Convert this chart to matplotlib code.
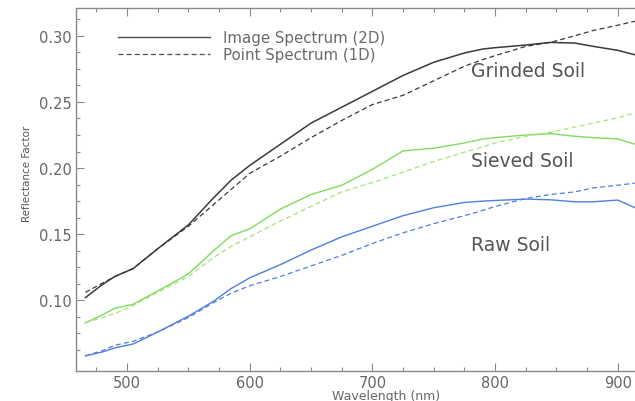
import numpy as np
import matplotlib.pyplot as plt
from matplotlib.lines import Line2D
from matplotlib.ticker import MultipleLocator, FixedLocator

# wavelength grid (nm)
wavelength = [466, 480, 490, 505, 525, 550, 570, 585, 600, 625, 650, 675,
              700, 725, 750, 775, 790, 800, 825, 845, 865, 880, 900, 914]

# image spectrum (2D) - solid lines
img_grinded = [0.102, 0.112, 0.118, 0.124, 0.139, 0.157, 0.177, 0.191, 0.202, 0.218, 0.234, 0.246,
               0.258, 0.270, 0.280, 0.287, 0.290, 0.291, 0.293, 0.295, 0.2945, 0.292, 0.289, 0.2856]
img_sieved = [0.083, 0.089, 0.094, 0.097, 0.107, 0.120, 0.137, 0.149, 0.154, 0.169, 0.180, 0.187,
              0.199, 0.213, 0.215, 0.219, 0.222, 0.223, 0.225, 0.226, 0.224, 0.223, 0.222, 0.218]
img_raw = [0.058, 0.061, 0.064, 0.067, 0.076, 0.088, 0.099, 0.109, 0.117, 0.127, 0.138, 0.148,
           0.156, 0.164, 0.170, 0.174, 0.175, 0.1755, 0.1765, 0.176, 0.1745, 0.1745, 0.1758, 0.170]

# point spectrum (1D) - dashed lines
pt_grinded = [0.106, 0.113, 0.118, 0.124, 0.139, 0.156, 0.172, 0.184, 0.196, 0.209, 0.223, 0.236,
              0.248, 0.255, 0.266, 0.277, 0.282, 0.285, 0.292, 0.295, 0.300, 0.304, 0.308, 0.311]
pt_sieved = [0.083, 0.087, 0.090, 0.096, 0.106, 0.118, 0.132, 0.141, 0.148, 0.160, 0.171, 0.182,
             0.189, 0.197, 0.205, 0.212, 0.216, 0.219, 0.224, 0.227, 0.231, 0.234, 0.238, 0.2417]
pt_raw = [0.058, 0.062, 0.066, 0.069, 0.076, 0.087, 0.098, 0.1055, 0.111, 0.118, 0.126, 0.134,
          0.143, 0.151, 0.158, 0.164, 0.168, 0.171, 0.177, 0.180, 0.182, 0.185, 0.187, 0.1886]

soil_names = ["Grinded Soil", "Sieved Soil", "Raw Soil"]
label_y = [0.2735, 0.206, 0.1425]
y_major = [0.10, 0.15, 0.20, 0.25, 0.30]

c_black = "#3a3a3a"
c_green = "#7fdc5c"
c_green_d = "#a8e27e"
c_blue = "#4f7fdc"
c_axis = "#8a8a8a"
c_text = "#555555"

plt.rcParams['font.family'] = 'DejaVu Sans'

fig = plt.figure(figsize=(6.35, 4.02), dpi=100)
ax = fig.add_axes([0.1197, 0.0754, 0.8803, 0.9022])

dash = (4, 2.5)
ax.plot(wavelength, img_grinded, color=c_black, lw=1.1)
ax.plot(wavelength, pt_grinded, color=c_black, lw=0.9, dashes=dash)
ax.plot(wavelength, img_sieved, color=c_green, lw=1.0)
ax.plot(wavelength, pt_sieved, color=c_green_d, lw=0.9, dashes=dash)
ax.plot(wavelength, img_raw, color=c_blue, lw=1.0)
ax.plot(wavelength, pt_raw, color=c_blue, lw=0.9, dashes=dash)

for name, yy in zip(soil_names, label_y):
    ax.text(780, yy, name, fontsize=13.5, color=c_text, ha='left', va='center')

handles = [Line2D([], [], color="#505050", lw=1.0),
           Line2D([], [], color="#505050", lw=0.9, dashes=dash)]
ax.legend(handles, ["Image Spectrum (2D)", "Point Spectrum (1D)"],
          loc='upper left', bbox_to_anchor=(0.065, 0.955), frameon=False,
          fontsize=10.8, handlelength=6.1, handletextpad=0.9, labelspacing=0.1,
          labelcolor="#6a6a6a", borderaxespad=0)

ax.set_xlim(458.4, 914)
ax.set_ylim(0.0468, 0.321)
ax.xaxis.set_major_locator(MultipleLocator(100))
ax.xaxis.set_minor_locator(MultipleLocator(25))
ax.yaxis.set_major_locator(FixedLocator(y_major))
ax.yaxis.set_minor_locator(FixedLocator(np.arange(0.0625, 0.321, 0.0125)))
ax.yaxis.set_major_formatter(plt.FormatStrFormatter('%.2f'))

ax.tick_params(which='both', direction='in', top=True, right=False, colors=c_axis,
               labelcolor="#666666", labelsize=10.5, pad=3, width=0.8)
ax.tick_params(which='major', length=6)
ax.tick_params(which='minor', length=3)

for s in ['left', 'bottom', 'top']:
    ax.spines[s].set_color(c_axis)
    ax.spines[s].set_linewidth(1.0)
ax.spines['right'].set_visible(False)

ax.set_xlabel("Wavelength (nm)", fontsize=9, color="#666666", va='center')
ax.xaxis.set_label_coords(0.555, -0.0675)
ax.set_ylabel("Reflectance Factor", fontsize=7.5, color="#555555", va='center')
ax.yaxis.set_label_coords(-0.0877, 0.546)

fig.savefig("out.png", dpi=100)
